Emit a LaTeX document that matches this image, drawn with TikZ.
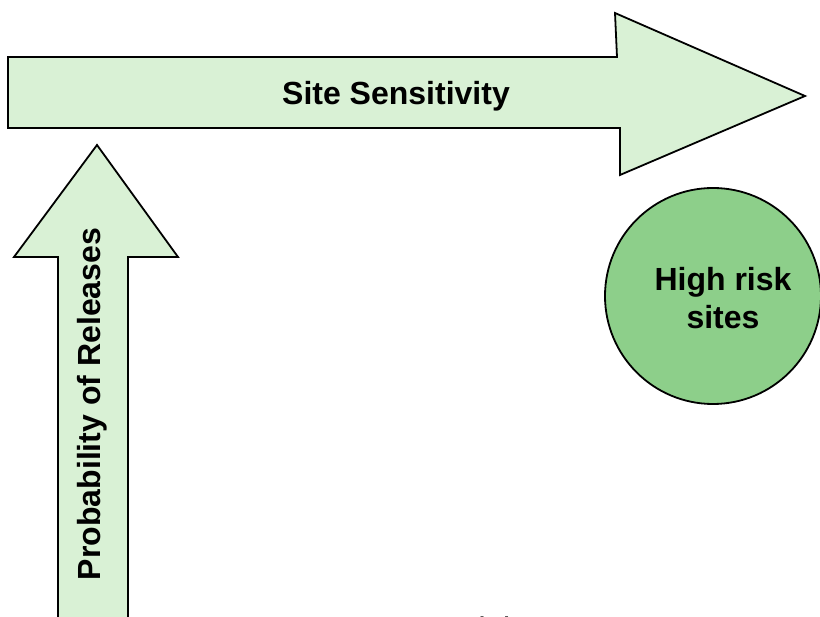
\documentclass[tikz,border=0pt]{standalone}
\usepackage{fontspec}
\setsansfont{Liberation Sans}
\usepackage{tikz}
\usetikzlibrary{positioning}
\definecolor{axisgreen}{HTML}{D9F1D5}
\definecolor{sitegreen}{HTML}{8DCF8A}

\begin{document}
\begin{tikzpicture}[
  x=1pt, y=1pt,
  font=\sffamily,
  axisarrow/.style={
    draw=black,
    fill=axisgreen,
    line width=1.8pt,
    line join=miter
  },
  axislabel/.style={
    font=\sffamily\bfseries\fontsize{32}{38}\selectfont,
    text=black,
    inner sep=0pt
  },
  risksite/.style={
    circle,
    draw=black,
    fill=sitegreen,
    line width=1.8pt,
    minimum size=216pt,
    inner sep=0pt
  },
  sitelabel/.style={
    align=center,
    inner sep=0pt,
    font=\sffamily\bfseries\fontsize{32}{38}\selectfont
  }
]

  % Page frame
  \useasboundingbox (0,0) rectangle (820,-617);

  % Horizontal axis: Site Sensitivity
  \draw[axisarrow] (8,-57) -- (617,-57) -- (615,-13) -- (805,-96)
    -- (620,-175) -- (620,-128) -- (8,-128) -- cycle;
  \node[axislabel] (sens) at (396,-96) {Site Sensitivity};

  % Vertical axis: Probability of Releases
  \draw[axisarrow] (97,-145) -- (178,-257) -- (128,-257) -- (128,-650)
    -- (58,-650) -- (58,-257) -- (14,-257) -- cycle;
  \node[axislabel, rotate=90] (prob) at (92,-404) {Probability of Releases};

  % High risk corner
  \node[risksite] (high) at (713,-296) {};
  \node[sitelabel, xshift=10pt, yshift=-2pt] (highlabel) at (high.center) {High risk\\sites};

  % Caption (cut by the page edge)
  \node[font=\sffamily\fontsize{34}{40}\selectfont, anchor=base west, inner sep=0pt]
    (note) at (343,-641) {Area = Risk};

\end{tikzpicture}
\end{document}
